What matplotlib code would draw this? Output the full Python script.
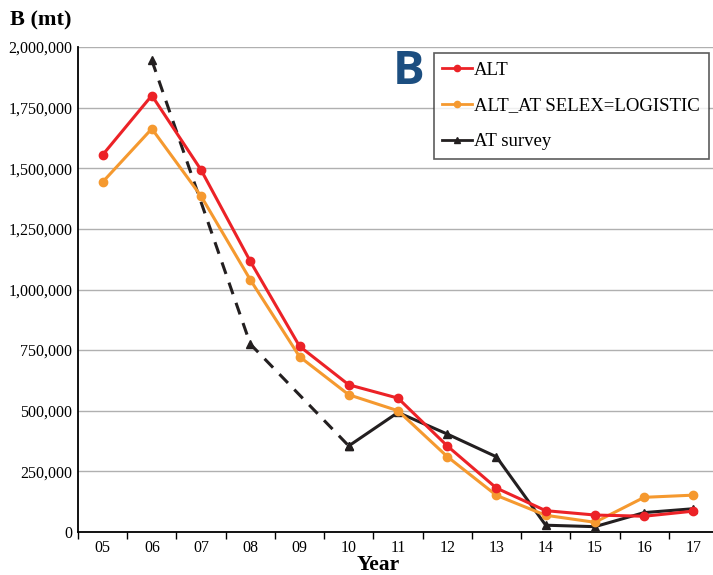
import numpy as np
import matplotlib
matplotlib.use("Agg")
from matplotlib import pyplot as plt
from matplotlib.lines import Line2D

years = ["05", "06", "07", "08", "09", "10", "11", "12", "13", "14", "15", "16", "17"]
alt = [1555000, 1800000, 1493000, 1116000, 766000, 607000, 552000, 355000, 181000, 88000, 70000, 65000, 86000]
alt_logistic = [1443000, 1663000, 1385000, 1040000, 723000, 566000, 500000, 311000, 151000, 69000, 40000, 143000, 152000]
# survey: no values for 05, 07, 09; dashed up to 10, solid after
survey = [np.nan, 1945000, np.nan, 775000, np.nan, 355000, 493000, 404000, 310000, 28000, 22000, 80000, 96000]
yticks = [0, 250000, 500000, 750000, 1000000, 1250000, 1500000, 1750000, 2000000]

red = "#ec2227"
orange = "#f5992f"
black = "#231f20"
serif = "Liberation Serif"

fig = plt.figure(figsize=(7.13, 5.75), dpi=100)
ax = fig.add_axes([78 / 713, 1 - 532 / 575, 640 / 713, 485 / 575])

x = np.arange(len(years))
surv = np.array(survey, dtype=float)
dash_idx = [i for i in range(0, 6) if not np.isnan(surv[i])]
solid_idx = list(range(5, len(years)))

ax.plot(x[dash_idx], surv[dash_idx], color=black, lw=2.2, ls=(0, (4, 3)),
        marker="^", ms=6, zorder=3)
ax.plot(x[solid_idx], surv[solid_idx], color=black, lw=2.2, marker="^", ms=6, zorder=3)
ax.plot(x, alt_logistic, color=orange, lw=2.2, marker="o", ms=6, zorder=4)
ax.plot(x, alt, color=red, lw=2.2, marker="o", ms=6, zorder=5)

ax.set_xlim(-0.5, len(years) - 0.5)
ax.set_ylim(0, 2000000)
ax.set_yticks(yticks)
ax.set_yticklabels([f"{v:,}" for v in yticks], fontfamily=serif, fontsize=11.5)
ax.set_xticks(x)
ax.set_xticklabels(years, fontfamily=serif, fontsize=11.5)
ax.set_xticks(np.arange(-0.5, len(years), 1), minor=True)
ax.tick_params(axis="x", which="major", length=0, pad=6)
ax.tick_params(axis="x", which="minor", length=5, width=1, direction="out")
ax.tick_params(axis="y", length=0, pad=4)
ax.grid(axis="y", color="#b0b0b0", lw=1)
ax.set_axisbelow(True)
for s in ["top", "right"]:
    ax.spines[s].set_visible(False)
ax.spines["left"].set_linewidth(1.3)
ax.spines["bottom"].set_linewidth(1.3)

fig.text(10 / 713, 1 - 20 / 575, "B (mt)", fontfamily=serif, fontweight="bold",
         fontsize=16, va="center", ha="left")
fig.text(378 / 713, 1 - 565 / 575, "Year", fontfamily=serif, fontweight="bold",
         fontsize=15.5, va="center", ha="center")
fig.text(409 / 713, 1 - 71 / 575, "B", fontfamily="Open Sans", fontweight="bold",
         fontsize=34, color="#1c4e80", va="center", ha="center")

handles = [
    Line2D([], [], color=red, lw=2, marker="o", ms=4.5),
    Line2D([], [], color=orange, lw=2, marker="o", ms=4.5),
    Line2D([], [], color=black, lw=2, marker="^", ms=4.5),
]
leg = ax.legend(handles, ["ALT", "ALT_AT SELEX=LOGISTIC", "AT survey"],
                loc="upper left", bbox_to_anchor=((434 - 78) / 640, 1 - 6 / 485),
                prop={"family": serif, "size": 13.5}, frameon=True, fancybox=False,
                edgecolor="#333333", handlelength=1.6, handletextpad=0.1,
                labelspacing=1.0, borderpad=0.45, borderaxespad=0)
leg.get_frame().set_linewidth(1.2)

fig.savefig("out.png", dpi=100)
